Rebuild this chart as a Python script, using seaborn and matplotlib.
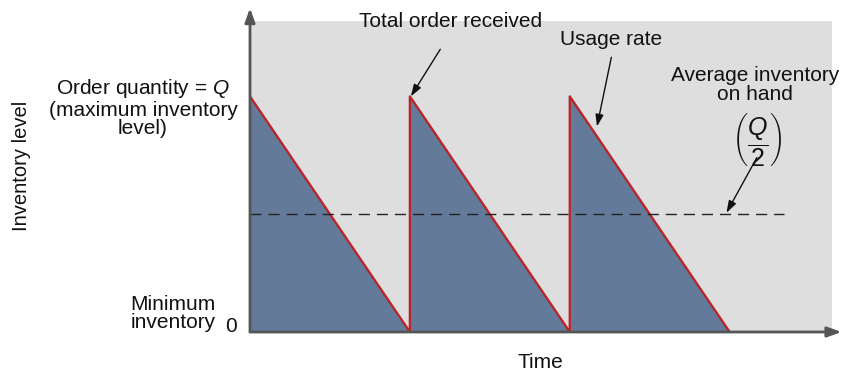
import matplotlib
matplotlib.use("Agg")
import matplotlib.pyplot as plt
import seaborn as sns
import pandas as pd

sns.set_theme(style="white")
plt.rcParams['font.family'] = ['Liberation Sans', 'DejaVu Sans']
plt.rcParams['mathtext.fontset'] = 'custom'
plt.rcParams['mathtext.rm'] = 'Liberation Sans'
plt.rcParams['mathtext.it'] = 'Liberation Sans:italic'
plt.rcParams['text.color'] = '#111111'

# Data: sawtooth inventory (Q normalised to 1)
time = [0, 1, 1, 2, 2, 3]
inventory = [1, 0, 1, 0, 1, 0]
avg_level = 0.5
avg_end = 3.34
x_max = 3.64
y_max = 1.32

df = pd.DataFrame({"time": time, "inventory": inventory})

fig = plt.figure(figsize=(8.42, 3.71), dpi=100)
ax = fig.add_axes([250/842, (371-332)/371, (832-250)/842, (332-21)/371])
ax.set_facecolor("#dedede")
ax.set_xlim(0, x_max)
ax.set_ylim(0, y_max)

ax.fill_between(df["time"], df["inventory"], 0, color="#647a9a", lw=0, zorder=2)
sns.lineplot(data=df, x="time", y="inventory", sort=False, estimator=None,
             color="#b8262c", lw=1.7, ax=ax, zorder=3)
ax.plot([0, avg_end], [avg_level, avg_level], color="#222222", lw=1.0,
        dashes=(8, 5), zorder=4)

for s in ax.spines.values():
    s.set_visible(False)
ax.set_xticks([])
ax.set_yticks([])
ax.set_xlabel("")
ax.set_ylabel("")

axis_arrow = dict(arrowstyle="-|>,head_width=0.25,head_length=0.7",
                  color="#555555", lw=2.0, shrinkA=0, shrinkB=0)
ax.annotate("", xy=(0, 1.375), xytext=(0, 0), arrowprops=axis_arrow,
            annotation_clip=False, zorder=5)
ax.annotate("", xy=(3.70, 0), xytext=(0, 0), arrowprops=axis_arrow,
            annotation_clip=False, zorder=5)

ptr = dict(arrowstyle="-|>,head_width=0.2,head_length=0.6",
           color="#111111", lw=1.0, shrinkA=0, shrinkB=0)
fs = 15

ax.text(1.256, 1.319, "Total order received", ha="center", va="center",
        fontsize=fs, clip_on=False)
ax.annotate("", xy=(1.006, 1.0), xytext=(1.19, 1.20), arrowprops=ptr,
            annotation_clip=False)

ax.text(2.26, 1.243, "Usage rate", ha="center", va="center", fontsize=fs)
ax.annotate("", xy=(2.17, 0.872), xytext=(2.26, 1.166), arrowprops=ptr,
            annotation_clip=False)

ax.text(3.16, 1.049, "Average inventory\non hand", ha="center", va="center",
        fontsize=fs, linespacing=1.0)
ax.text(3.17, 0.815, r"$\left(\dfrac{Q}{2}\right)$", ha="center", va="center",
        fontsize=18)
ax.annotate("", xy=(2.98, 0.506), xytext=(3.17, 0.74), arrowprops=ptr,
            annotation_clip=False)

fig.text(143/842, 1-108/371, "Order quantity = $Q$\n(maximum inventory\nlevel)",
         ha="center", va="center", fontsize=fs, linespacing=1.0)
fig.text(173/842, 1-313.5/371, "Minimum\ninventory", ha="center", va="center",
         fontsize=fs, linespacing=1.0)
fig.text(231/842, 1-326/371, "0", ha="center", va="center", fontsize=fs)
fig.text(22/842, 1-166/371, "Inventory level", rotation=90, ha="center",
         va="center", fontsize=14.5)
fig.text(540/842, 1-362/371, "Time", ha="center", va="center", fontsize=fs)

fig.savefig("out.png", dpi=100)
